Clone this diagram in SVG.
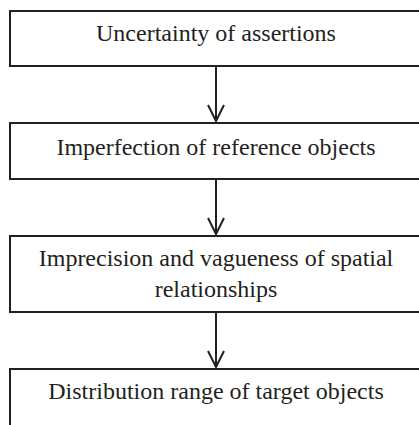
<svg xmlns="http://www.w3.org/2000/svg" width="419" height="425" viewBox="0 0 419 425">
<style>
.box{fill:#fff;stroke:#231f20;stroke-width:2}
.t{font-family:"Liberation Serif","Times New Roman",serif;font-size:24px;fill:#231f20;text-anchor:middle}
.c{fill:none;stroke:#231f20;stroke-width:2}
</style>
<rect width="419" height="425" fill="#fff"/>
<g id="n1"><rect class="box" x="10" y="11" width="414" height="55"/><text class="t" x="216" y="41">Uncertainty of assertions</text></g>
<g id="n2"><rect class="box" x="10" y="123" width="414" height="56"/><text class="t" x="216" y="155">Imperfection of reference objects</text></g>
<g id="n3"><rect class="box" x="10" y="236" width="414" height="76"/><text class="t" x="216" y="266">Imprecision and vagueness of spatial</text><text class="t" x="216" y="297">relationships</text></g>
<g id="n4"><rect class="box" x="10" y="369" width="414" height="70"/><text class="t" x="216" y="399">Distribution range of target objects</text></g>
<g id="connectors">
<path class="c" d="M216 66V121M208 105L216 121L224 105"/>
<path class="c" d="M216 179V234M208 218L216 234L224 218"/>
<path class="c" d="M216 312V367M208 351L216 367L224 351"/>
</g>
</svg>
